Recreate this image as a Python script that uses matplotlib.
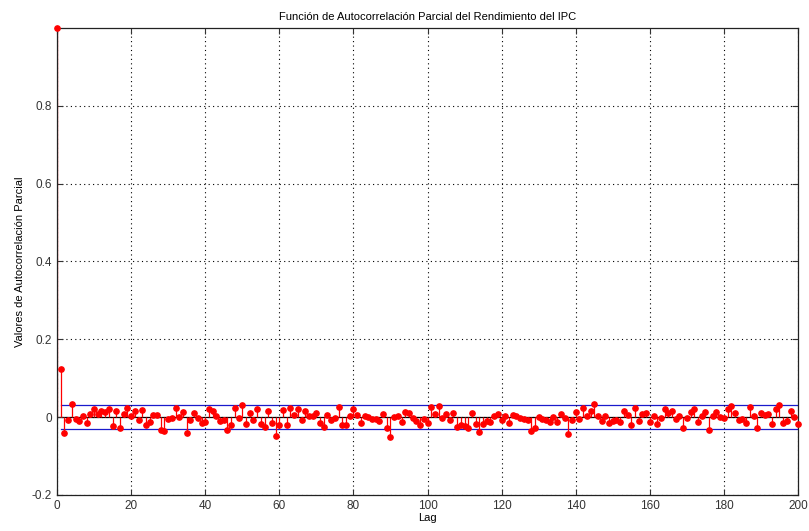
import numpy as np
import matplotlib
matplotlib.use("Agg")
import matplotlib.pyplot as plt

plt.rcParams['font.family'] = ['Liberation Sans', 'DejaVu Sans']

# Partial autocorrelation values, lags 0..200
pacf = [
    1.000, 0.125, -0.040, -0.008, 0.033, -0.005, -0.009, 0.004, -0.015, 0.009,
    0.021, 0.007, 0.015, 0.013, 0.021, -0.023, 0.015, -0.027, 0.009, 0.024,
    0.003, 0.017, -0.008, 0.018, -0.019, -0.012, 0.005, 0.005, -0.032, -0.036,
    -0.005, -0.002, 0.024, 0.000, 0.012, -0.040, -0.008, 0.010, -0.003, -0.016,
    -0.013, 0.021, 0.015, 0.003, -0.009, -0.007, -0.032, -0.020, 0.023, -0.002,
    0.031, -0.018, 0.010, -0.008, 0.021, -0.018, -0.026, 0.015, -0.016, -0.048,
    -0.021, 0.018, -0.021, 0.024, 0.006, 0.021, -0.008, 0.015, 0.003, 0.003,
    0.010, -0.016, -0.025, 0.006, -0.008, -0.002, 0.027, -0.021, -0.021, 0.003,
    0.020, 0.005, -0.015, 0.003, 0.000, -0.006, -0.006, -0.009, 0.009, -0.028,
    -0.051, 0.000, 0.004, -0.013, 0.013, 0.011, -0.001, -0.009, -0.021, -0.004,
    -0.015, 0.025, 0.009, 0.028, -0.001, 0.008, -0.007, 0.010, -0.026, -0.019,
    -0.023, -0.027, 0.010, -0.018, -0.037, -0.018, -0.010, -0.012, 0.002, 0.009,
    -0.008, 0.004, -0.016, 0.005, 0.003, -0.001, -0.005, -0.008, -0.035, -0.027,
    0.001, -0.004, -0.008, -0.012, 0.000, -0.012, 0.009, -0.003, -0.044, -0.008,
    0.013, -0.004, 0.023, 0.004, 0.015, 0.033, 0.004, -0.010, 0.003, -0.015,
    -0.009, -0.008, -0.013, 0.017, 0.006, -0.021, 0.024, -0.010, 0.009, 0.010,
    -0.013, 0.003, -0.018, -0.003, 0.020, 0.010, 0.015, -0.005, 0.003, -0.027,
    -0.002, 0.013, 0.021, -0.012, 0.003, 0.012, -0.032, 0.003, 0.012, 0.000,
    -0.003, 0.021, 0.029, 0.010, -0.008, -0.006, -0.014, 0.027, 0.003, -0.027,
    0.010, 0.005, 0.008, -0.018, 0.021, 0.031, -0.014, -0.010, 0.015, 0.001,
    -0.018,
]
lags = np.arange(len(pacf))
bound = 0.031

x_ticks = [0, 20, 40, 60, 80, 100, 120, 140, 160, 180, 200]
y_ticks = [-0.2, 0, 0.2, 0.4, 0.6, 0.8]
y_tick_labels = ["-0.2", "0", "0.2", "0.4", "0.6", "0.8"]

fig = plt.figure(figsize=(8.09, 5.31), dpi=100)
ax = fig.add_axes([0.0705, 0.0678, 0.9159, 0.8795])

markerline, stemlines, baseline = ax.stem(lags, pacf, basefmt=" ")
plt.setp(stemlines, color="red", linewidth=0.9)
plt.setp(markerline, color="red", marker="o", markersize=3.8,
         markerfacecolor="red", markeredgecolor="red", clip_on=False, zorder=4)

ax.plot([0, 200], [0, 0], color="black", linewidth=0.9, zorder=1)
ax.plot([1, 200], [bound, bound], color="#1a1acc", linewidth=0.9, zorder=1)
ax.plot([1, 200], [-bound, -bound], color="#1a1acc", linewidth=0.9, zorder=1)

ax.set_xlim(0, 200)
ax.set_ylim(-0.2, 1.0)
ax.set_xticks(x_ticks)
ax.set_yticks(y_ticks)
ax.set_yticklabels(y_tick_labels)
ax.grid(True, color="black", linestyle=(0, (1, 3)), linewidth=0.8)
ax.tick_params(direction="in", top=True, right=True, labelsize=8.5, length=4,
               colors="#333333")
for sp in ax.spines.values():
    sp.set_linewidth(0.9)
    sp.set_color("#222222")

ax.set_title("Función de Autocorrelación Parcial del Rendimiento del IPC",
             fontsize=8, pad=6)
ax.set_xlabel("Lag", fontsize=8, labelpad=1)
ax.set_ylabel("Valores de Autocorrelación Parcial", fontsize=8, labelpad=5)

fig.savefig("out.png", dpi=100)
